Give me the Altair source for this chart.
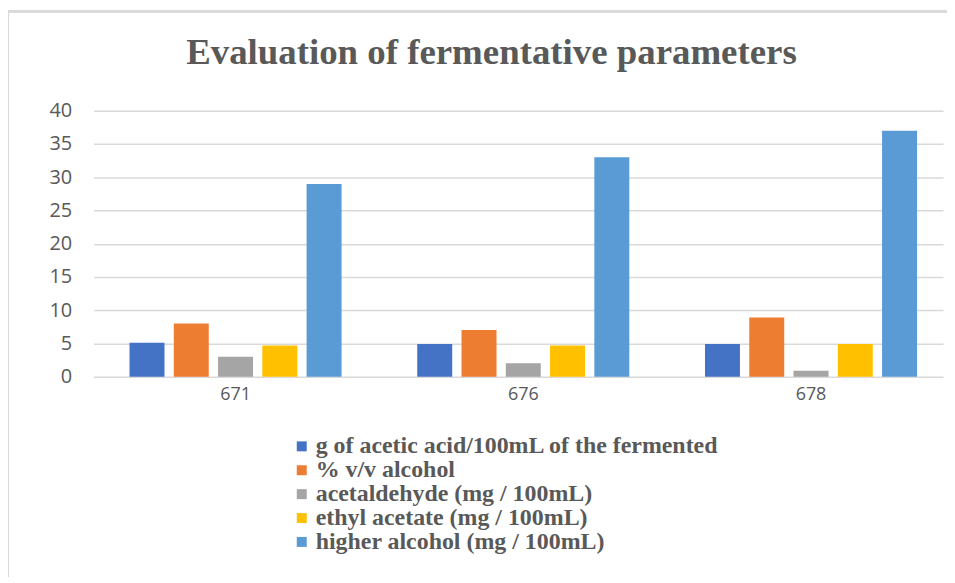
import altair as alt
import pandas as pd

categories = ["671", "676", "678"]
series = [
    "g of acetic acid/100mL of the fermented",
    "% v/v alcohol",
    "acetaldehyde (mg / 100mL)",
    "ethyl acetate (mg / 100mL)",
    "higher alcohol (mg / 100mL)",
]
acetic = [5.1, 4.9, 4.9]
alcohol = [8.0, 7.0, 8.9]
acetaldehyde = [3.0, 2.0, 0.9]
ethyl = [4.7, 4.7, 4.9]
higher = [29.0, 33.0, 37.0]
colors = ["#4472C4", "#ED7D31", "#A5A5A5", "#FFC000", "#5B9BD5"]

rows = []
for s, vals in zip(series, [acetic, alcohol, acetaldehyde, ethyl, higher]):
    for c, v in zip(categories, vals):
        rows.append({"cat": c, "series": s, "value": v})
df = pd.DataFrame(rows)

TEXT = "#595959"

bars = alt.Chart(df).mark_bar().encode(
    x=alt.X("cat:N", sort=categories, title=None,
            scale=alt.Scale(paddingInner=0.263, paddingOuter=0.1075, align=0.58),
            axis=alt.Axis(labelAngle=0, ticks=False, domain=False, labelFont="Open Sans",
                          labelFontSize=18, labelColor=TEXT, labelPadding=9, grid=False)),
    xOffset=alt.XOffset("series:N", sort=series, scale=alt.Scale(paddingInner=0.21)),
    y=alt.Y("value:Q", title=None,
            scale=alt.Scale(domain=[0, 40]),
            axis=alt.Axis(values=[0, 5, 10, 15, 20, 25, 30, 35, 40], ticks=False, domain=False,
                          labelFont="Open Sans", labelFontSize=20, labelColor=TEXT,
                          labelPadding=22, gridColor="#D9D9D9", gridWidth=1.5)),
    color=alt.Color("series:N", sort=series, scale=alt.Scale(domain=series, range=colors),
                    legend=alt.Legend(title=None, orient="none", legendX=197, legendY=325,
                                      symbolType="square", symbolSize=100, symbolStrokeWidth=0,
                                      labelFont="Liberation Serif", labelFontWeight="bold",
                                      labelFontSize=24, labelColor=TEXT, rowPadding=-0.7,
                                      labelLimit=700, labelOffset=2)),
)

border_left = alt.Chart(df).mark_rule(color="#D9D9D9", strokeWidth=2).encode(
    x=alt.value(-86), y=alt.value(-100), y2=alt.value(480))
border_top = alt.Chart(df).mark_rule(color="#D9D9D9", strokeWidth=2).encode(
    x=alt.value(-86), x2=alt.value(870), y=alt.value(-100))

chart = alt.layer(border_left, border_top, bars).properties(
    width=853, height=267,
    autosize=alt.AutoSizeParams(type="none"),
    padding={"left": 86, "top": 102, "right": 4, "bottom": 200},
    title=alt.TitleParams("Evaluation of fermentative parameters", font="Liberation Serif",
                          fontSize=37, fontWeight="bold", color=TEXT, anchor="middle",
                          baseline="bottom", dx=-27, offset=-99),
).configure_view(stroke=None)

chart.save("out.html", embed_options={"renderer": "svg", "actions": False})
